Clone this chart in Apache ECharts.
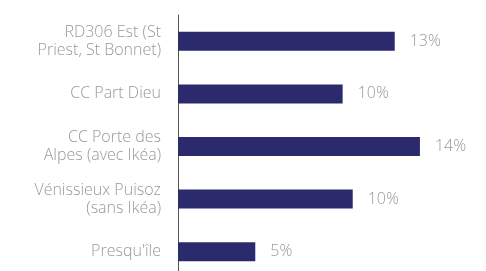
<!DOCTYPE html>
<html>
<head>
<meta charset="utf-8">
<script src="https://cdn.jsdelivr.net/npm/echarts@6/dist/echarts.min.js"></script>
<style>
  html, body { margin: 0; padding: 0; background: #fff; }
  #main { width: 486px; height: 271px; }
</style>
</head>
<body>
<div id="main"></div>
<script>
let categories = [
  "RD306 Est (St\nPriest, St Bonnet)",
  "CC Part Dieu",
  "CC Porte des\nAlpes (avec Ikéa)",
  "Vénissieux Puisoz\n(sans Ikéa)",
  "Presqu'île"
]
let values = [12.9, 9.8, 14.4, 10.4, 4.6]

var myChart = echarts.init(document.getElementById('main'))

var option = {
  animation: false,
  grid: {
    left: 178,
    top: 15,
    width: 252,
    height: 263,
    outerBoundsMode: 'none'
  },
  xAxis: {
    type: 'value',
    min: 0,
    max: 15,
    show: false
  },
  yAxis: {
    type: 'category',
    data: categories,
    inverse: true,
    axisLine: { lineStyle: { color: '#555', width: 1 } },
    axisTick: { show: false },
    axisLabel: {
      color: '#999',
      fontFamily: 'Open Sans',
      fontWeight: 300,
      fontSize: 16,
      lineHeight: 18,
      margin: 17,
      align: 'right'
    }
  },
  series: [
    {
      type: 'bar',
      data: values,
      barWidth: 19,
      itemStyle: { color: '#2b2a6c' },
      label: {
        show: true,
        position: 'right',
        distance: 15,
        color: '#999',
        fontFamily: 'Open Sans',
        fontWeight: 300,
        fontSize: 16,
        formatter: p => Math.round(p.value) + '%'
      }
    }
  ]
}

myChart.setOption(option)
</script>
</body>
</html>
